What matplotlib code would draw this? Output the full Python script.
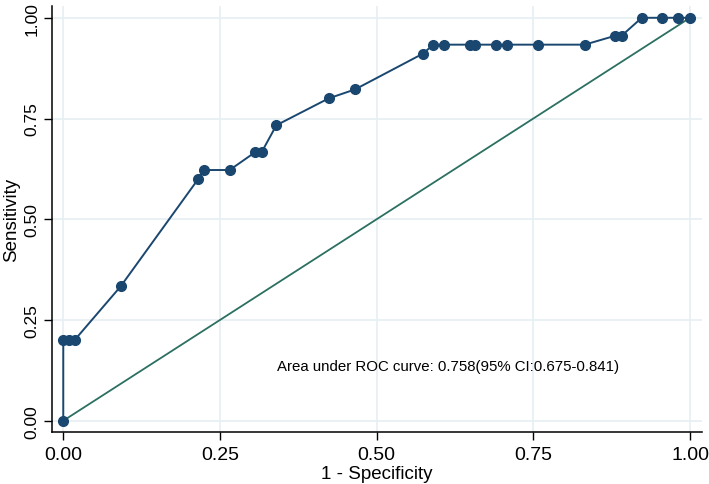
import matplotlib
matplotlib.use("Agg")
import matplotlib.pyplot as plt

# ROC points (1 - specificity, sensitivity)
fpr = [0.0, 0.0, 0.009, 0.018, 0.0915, 0.2154, 0.224, 0.2655, 0.3064, 0.3166,
       0.340, 0.4235, 0.4655, 0.574, 0.5904, 0.608, 0.649, 0.657, 0.6905,
       0.7075, 0.757, 0.832, 0.881, 0.891, 0.923, 0.956, 0.981, 1.0]
tpr = [0.0, 0.2, 0.2, 0.2, 0.3333, 0.6, 0.6222, 0.6222, 0.6667, 0.6667,
       0.7333, 0.8, 0.8222, 0.9111, 0.9333, 0.9333, 0.9333, 0.9333, 0.9333,
       0.9333, 0.9333, 0.9333, 0.9556, 0.9556, 1.0, 1.0, 1.0, 1.0]
ticks = [0.0, 0.25, 0.5, 0.75, 1.0]
tick_labels = ["0.00", "0.25", "0.50", "0.75", "1.00"]
auc_text = "Area under ROC curve: 0.758(95% CI:0.675-0.841)"

plt.rcParams['font.family'] = ['Liberation Sans', 'DejaVu Sans']

fig = plt.figure(figsize=(7.09, 4.85), dpi=100)
ax = fig.add_axes([0.0729, 0.1078, 0.9171, 0.8784])

ax.grid(True, color="#e6eff2", linewidth=1.2)
ax.set_axisbelow(True)

ax.plot([0, 1], [0, 1], color="#2b7061", linewidth=1.3, zorder=2)
ax.plot(fpr, tpr, color="#1a476f", linewidth=1.4, marker="o", markersize=7,
        zorder=3)

ax.set_xlim(-0.0185, 1.019)
ax.set_ylim(-0.0273, 1.030)
ax.set_xticks(ticks)
ax.set_xticklabels(tick_labels)
ax.set_yticks(ticks)
ax.set_yticklabels(tick_labels, rotation=90, va="center")
ax.tick_params(length=6, width=1, color="black")
ax.tick_params(axis="x", labelsize=14, pad=4.5)
ax.tick_params(axis="y", labelsize=12.5, pad=3)

ax.spines["top"].set_visible(False)
ax.spines["right"].set_visible(False)
ax.spines["left"].set_linewidth(1.1)
ax.spines["bottom"].set_linewidth(1.1)

ax.set_xlabel("1 - Specificity", fontsize=13.5, labelpad=1)
ax.set_ylabel("Sensitivity", fontsize=13.5, labelpad=3)

ax.text(0.3405, 0.135, auc_text, fontsize=10.8, ha="left", va="center")

fig.savefig("out.png", dpi=100)
